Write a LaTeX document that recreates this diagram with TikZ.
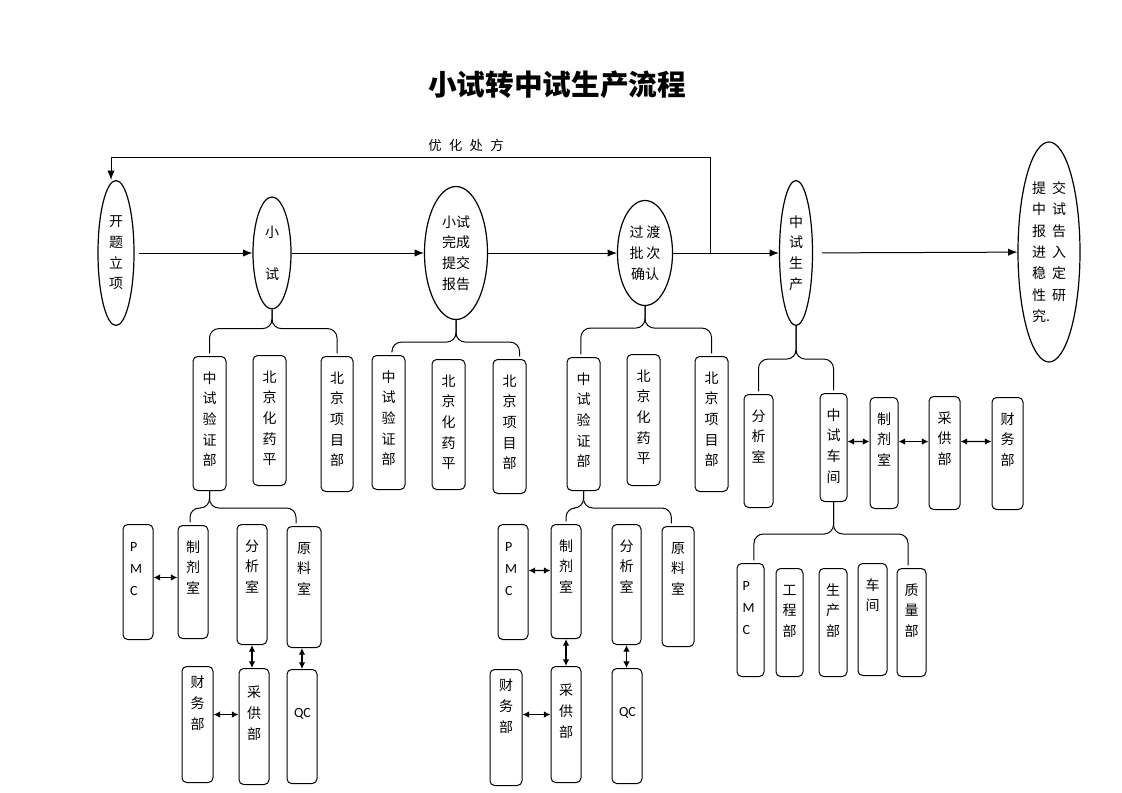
\documentclass[tikz,border=0pt]{standalone}
\usepackage{fontspec}
\setmainfont{Noto Sans CJK SC}
\newfontfamily\latinfont{Carlito}
\usetikzlibrary{arrows.meta,shapes.geometric}

\begin{document}
\begin{tikzpicture}
[x=0.75pt,y=-0.75pt,line width=0.75pt,
stage/.style={draw,ellipse,line width=0.9pt,inner sep=0pt,align=center,font=\fontsize{10.5}{15.5}\selectfont},
unit/.style={draw,rounded corners=3.5pt,anchor=north,text width=12pt,align=center,inner sep=0pt,text height=20pt,font=\fontsize{10.5}{15.5}\selectfont},
latin/.style={font=\fontsize{10.5}{16.5}\selectfont\latinfont},
flow/.style={-{Latex[length=7pt,width=5.5pt]}},
both/.style={line width=1pt,{Latex[length=5pt,width=5pt]}-{Latex[length=5pt,width=5pt]}},
brace/.style={rounded corners=7pt,shorten >=2pt}]
\useasboundingbox (0,0) rectangle (1122,793);

\node (title) at (557,85) {\bfseries\fontsize{21.5}{26}\selectfont 小试转中试生产流程};
\node (opt) at (466,145) {\fontsize{10}{12}\selectfont 优\hspace{0.55em}化\hspace{0.55em}处\hspace{0.55em}方};

\node[stage,minimum width=27pt,minimum height=108.75pt] (start) at (116,253) {开\\题\\立\\项};
\node[stage,minimum width=28.5pt,minimum height=84pt] (xs) at (272,253) {小\\[16pt]试};
\node[stage,minimum width=47.25pt,minimum height=99.75pt] (rep) at (456,253) {小试\\完成\\提交\\报告};
\node[stage,minimum width=41.25pt,minimum height=78.75pt] (trans) at (645,253) {过\hspace{2pt}渡\\批\hspace{2pt}次\\确认};
\node[stage,minimum width=24.75pt,minimum height=108.75pt] (pilot) at (796,253) {中\\试\\生\\产};
\node[stage,minimum width=46.5pt,minimum height=165pt,align=left,font=\fontsize{10.5}{16}\selectfont] (final) at (1049,252) {提\hspace{4.5pt}交\\中\hspace{4.5pt}试\\报\hspace{4.5pt}告\\进\hspace{4.5pt}入\\稳\hspace{4.5pt}定\\性\hspace{4.5pt}研\\究.};

\draw[flow,shorten <=3pt] (start) -- (xs);
\draw[flow] (xs) -- (rep);
\draw[flow] (rep) -- (trans);
\draw[flow] (trans) -- (pilot);
\draw[flow,shorten <=6.75pt] (pilot) -- (final);
\coordinate (fb) at (710,253);
\draw[flow] (fb) -- ++(0,-96) -| ([xshift=-3.75pt]start.north);

\node[unit,minimum width=24.75pt,text depth=80.5pt] (yz1) at (209.5,356) {中\\试\\验\\证\\部};
\node[unit,minimum width=24.75pt,text depth=77.5pt] (hy1) at (269.5,355) {北\\京\\化\\药\\平};
\node[unit,minimum width=24pt,text depth=81.25pt] (xm1) at (337,356) {北\\京\\项\\目\\部};
\node[unit,minimum width=24.75pt,text depth=80.5pt] (yz2) at (388.5,355) {中\\试\\验\\证\\部};
\node[unit,minimum width=24.75pt,text depth=77.5pt] (hy2) at (448.5,359) {北\\京\\化\\药\\平};
\node[unit,minimum width=24.75pt,text depth=80.5pt] (xm2) at (509.5,359) {北\\京\\项\\目\\部};
\node[unit,minimum width=24.75pt,text depth=79.75pt] (yz3) at (583.5,357) {中\\试\\验\\证\\部};
\node[unit,minimum width=24.75pt,text depth=78.25pt] (hy3) at (643.5,354) {北\\京\\化\\药\\平};
\node[unit,minimum width=24.75pt,text depth=81.25pt] (xm3) at (711.5,356) {北\\京\\项\\目\\部};

\node[unit,minimum width=21.75pt,text depth=64.75pt] (fx3) at (758.5,394) {分\\析\\室};
\node[unit,minimum width=20.25pt,text depth=61pt] (cj) at (833.5,393) {中\\试\\车\\间};
\node[unit,minimum width=21pt,text depth=63.25pt] (zj3) at (884,397) {制\\剂\\室};
\node[unit,minimum width=23.25pt,text depth=64.75pt] (cg3) at (944.5,396) {采\\供\\部};
\node[unit,minimum width=23.25pt,text depth=64pt] (cw3) at (1007.5,397) {财\\务\\部};

\node[unit,latin,align=left,minimum width=22.5pt,text depth=66.25pt] (pmc1) at (138,524) {P\\M\\C};
\node[unit,minimum width=22.5pt,text depth=64.75pt] (zj1) at (193,525) {制\\剂\\室};
\node[unit,minimum width=22.5pt,text depth=70pt] (fx1) at (252,524) {分\\析\\室};
\node[unit,minimum width=25.5pt,text depth=70.75pt] (yl1) at (304,526) {原\\料\\室};
\node[unit,minimum width=23.25pt,text height=16pt,text depth=71pt] (cw1) at (197.5,666) {财\\务\\部};
\node[unit,minimum width=22.5pt,text height=22pt,text depth=65pt] (cg1) at (254,668) {采\\供\\部};
\node[unit,latin,minimum width=22.5pt,text height=36pt,text depth=49.5pt] (qc1) at (302,669) {QC};

\node[unit,latin,align=left,minimum width=22.5pt,text depth=66.25pt] (pmc2) at (513,524) {P\\M\\C};
\node[unit,minimum width=22.5pt,text depth=65.5pt] (zj2) at (566,524) {制\\剂\\室};
\node[unit,minimum width=21.75pt,text depth=70pt] (fx2) at (626.5,524) {分\\析\\室};
\node[unit,minimum width=24pt,text depth=70pt] (yl2) at (678,526) {原\\料\\室};
\node[unit,minimum width=24pt,text height=16pt,text depth=71pt] (cw2) at (506,669) {财\\务\\部};
\node[unit,minimum width=22.5pt,text height=22pt,text depth=65pt] (cg2) at (566,666) {采\\供\\部};
\node[unit,latin,minimum width=22.5pt,text height=36pt,text depth=50.25pt] (qc2) at (627,668) {QC};

\node[unit,latin,align=left,minimum width=20.25pt,text depth=64.75pt] (pmc3) at (750.5,563) {P\\M\\C};
\node[unit,minimum width=20.25pt,text depth=61pt] (gc) at (789.5,568) {工\\程\\部};
\node[unit,minimum width=21pt,text depth=61pt] (sc) at (833,568) {生\\产\\部};
\node[unit,minimum width=21.75pt,text depth=64pt] (cj2) at (872.5,563) {车\\间};
\node[unit,minimum width=21.75pt,text depth=61pt] (zl) at (911.5,568) {质\\量\\部};

\draw[brace] (xs.south) -- ++(0,19) -| (yz1.north);
\draw[brace] (xs.south) -- ++(0,19) -| (xm1.north);
\draw[brace] (rep.south) -- ++(0,22) -| ([xshift=2.6pt]yz2.north);
\draw[brace] (rep.south) -- ++(0,22) -| ([xshift=7.5pt]xm2.north);
\draw[brace] (trans.south) -- ++(0,22) -| ([xshift=-2pt]yz3.north);
\draw[brace] (trans.south) -- ++(0,22) -| (xm3.north);
\draw[brace] (pilot.south) -- ++(0,33) -| (fx3.north);
\draw[brace] (pilot.south) -- ++(0,33) -| (cj.north);
\draw[brace] (yz1.south) -- ++(0,17) -| ([xshift=-2.25pt]zj1.north);
\draw[brace] (yz1.south) -- ++(0,17) -| ([xshift=-6pt]yl1.north);
\draw[brace] (yz3.south) -- ++(0,17) -| (zj2.north);
\draw[brace] (yz3.south) -- ++(0,17) -| ([xshift=-5pt]yl2.north);
\draw[brace] (cj.south) -- ++(0,32) -| ([xshift=2.6pt]pmc3.north);
\draw[brace] (cj.south) -- ++(0,32) -| ([xshift=-2.6pt]zl.north);

\draw[both] ([yshift=3.4pt]pmc1.east) -- ([yshift=3.4pt]zj1.west);
\draw[both] ([yshift=7.5pt]cw1.east) -- ([yshift=9pt]cg1.west);
\draw[both] (fx1.south) -- (fx1.south |- cg1.north);
\draw[both] (qc1.north |- yl1.south) -- (qc1.north);
\draw[both] ([yshift=8.6pt]pmc2.east) -- ([yshift=8.25pt]zj2.west);
\draw[both] ([yshift=9.75pt]cw2.east) -- ([yshift=7.5pt]cg2.west);
\draw[both] (zj2.south) -- (cg2.north);
\draw[both] (fx2.south) -- (fx2.south |- qc2.north);
\draw[both] ([yshift=4.5pt]cj.east) -- ([yshift=8.6pt]zj3.west);
\draw[both] ([yshift=8.6pt]zj3.east) -- ([yshift=8.6pt]cg3.west);
\draw[both] ([yshift=8.6pt]cg3.east) -- ([yshift=9pt]cw3.west);
\end{tikzpicture}
\end{document}
